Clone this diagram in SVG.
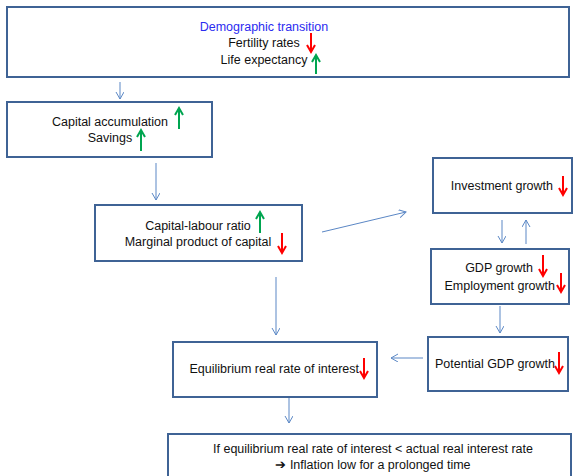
<svg xmlns="http://www.w3.org/2000/svg" width="573" height="476" viewBox="0 0 573 476">
<style>
.box{fill:#fff;stroke:#3F6395;stroke-width:2}
.t{font-family:"Liberation Sans",Arial,sans-serif;font-size:12.5px;fill:#111}
.c{text-anchor:middle}
.con{stroke:#5B87C5;stroke-width:1;fill:none}
.up{stroke:#00A550;stroke-width:2;fill:none}
.dn{stroke:#FF0000;stroke-width:2;fill:none}
</style>
<defs>
<marker id="ah" markerUnits="userSpaceOnUse" markerWidth="10" markerHeight="10" refX="7" refY="4" orient="auto" viewBox="0 0 10 10">
<path d="M0,0 L7,4 L0,8" fill="none" stroke="#5B87C5" stroke-width="1"/>
</marker>
<marker id="rh" markerUnits="userSpaceOnUse" markerWidth="12" markerHeight="12" refX="8" refY="5" orient="auto" viewBox="0 0 12 10">
<path d="M1,1 L8,5 L1,9" fill="none" stroke="#FF0000" stroke-width="2"/>
</marker>
<marker id="gh" markerUnits="userSpaceOnUse" markerWidth="12" markerHeight="12" refX="8" refY="5" orient="auto" viewBox="0 0 12 10">
<path d="M1,1 L8,5 L1,9" fill="none" stroke="#00A550" stroke-width="2"/>
</marker>
</defs>
<rect width="573" height="476" fill="#fff"/>
<g id="connectors">
<line class="con" x1="120" y1="82" x2="120" y2="99" marker-end="url(#ah)"/>
<line class="con" x1="156" y1="163" x2="156" y2="200" marker-end="url(#ah)"/>
<line class="con" x1="322" y1="232" x2="406" y2="212" marker-end="url(#ah)"/>
<line class="con" x1="502" y1="220" x2="502" y2="243" marker-end="url(#ah)"/>
<line class="con" x1="526" y1="244" x2="526" y2="220" marker-end="url(#ah)"/>
<line class="con" x1="500" y1="306" x2="500" y2="333" marker-end="url(#ah)"/>
<line class="con" x1="423" y1="358" x2="391" y2="358" marker-end="url(#ah)"/>
<line class="con" x1="276" y1="277" x2="276" y2="335" marker-end="url(#ah)"/>
<line class="con" x1="289" y1="398" x2="289" y2="423" marker-end="url(#ah)"/>
</g>
<g id="demographic">
<rect class="box" x="7" y="7" width="562" height="70"/>
<text class="t c" x="264" y="31" style="fill:#2B2BF0">Demographic transition</text>
<text class="t c" x="264" y="47">Fertility rates</text>
<text class="t c" x="264" y="64">Life expectancy</text>
<line class="dn" x1="311" y1="33" x2="311" y2="52" marker-end="url(#rh)"/>
<line class="up" x1="316" y1="74" x2="316" y2="55" marker-end="url(#gh)"/>
</g>
<g id="capital">
<rect class="box" x="7" y="102" width="205" height="55"/>
<text class="t c" x="110" y="126">Capital accumulation</text>
<text class="t c" x="110" y="142">Savings</text>
<line class="up" x1="179" y1="129" x2="179" y2="108" marker-end="url(#gh)"/>
<line class="up" x1="141" y1="151" x2="141" y2="130" marker-end="url(#gh)"/>
</g>
<g id="ratio">
<rect class="box" x="95" y="205" width="207" height="56"/>
<text class="t c" x="198" y="230">Capital-labour ratio</text>
<text class="t c" x="198" y="246">Marginal product of capital</text>
<line class="up" x1="260" y1="233" x2="260" y2="212" marker-end="url(#gh)"/>
<line class="dn" x1="282" y1="233" x2="282" y2="253" marker-end="url(#rh)"/>
</g>
<g id="investment">
<rect class="box" x="433" y="158" width="139" height="55"/>
<text class="t" x="553" y="190" text-anchor="end">Investment growth</text>
<line class="dn" x1="563" y1="176" x2="563" y2="195" marker-end="url(#rh)"/>
</g>
<g id="gdp">
<rect class="box" x="431" y="249" width="138" height="55"/>
<text class="t" x="533" y="272" text-anchor="end">GDP growth</text>
<text class="t" x="555" y="290" text-anchor="end">Employment growth</text>
<line class="dn" x1="543" y1="255" x2="543" y2="276" marker-end="url(#rh)"/>
<line class="dn" x1="561" y1="273" x2="561" y2="292" marker-end="url(#rh)"/>
</g>
<g id="potential">
<rect class="box" x="428" y="337" width="140" height="54"/>
<text class="t" x="555" y="368" text-anchor="end">Potential GDP growth</text>
<line class="dn" x1="559" y1="352" x2="559" y2="373" marker-end="url(#rh)"/>
</g>
<g id="equilibrium">
<rect class="box" x="173" y="342" width="204" height="55"/>
<text class="t" x="359" y="373" text-anchor="end">Equilibrium real rate of interest</text>
<line class="dn" x1="364" y1="358" x2="364" y2="378" marker-end="url(#rh)"/>
</g>
<g id="conclusion">
<rect class="box" x="168" y="434" width="403" height="60"/>
<text class="t c" x="373" y="453">If equilibrium real rate of interest &lt; actual real interest rate</text>
<text class="t c" x="373" y="469">➔ Inflation low for a prolonged time</text>
</g>
</svg>
